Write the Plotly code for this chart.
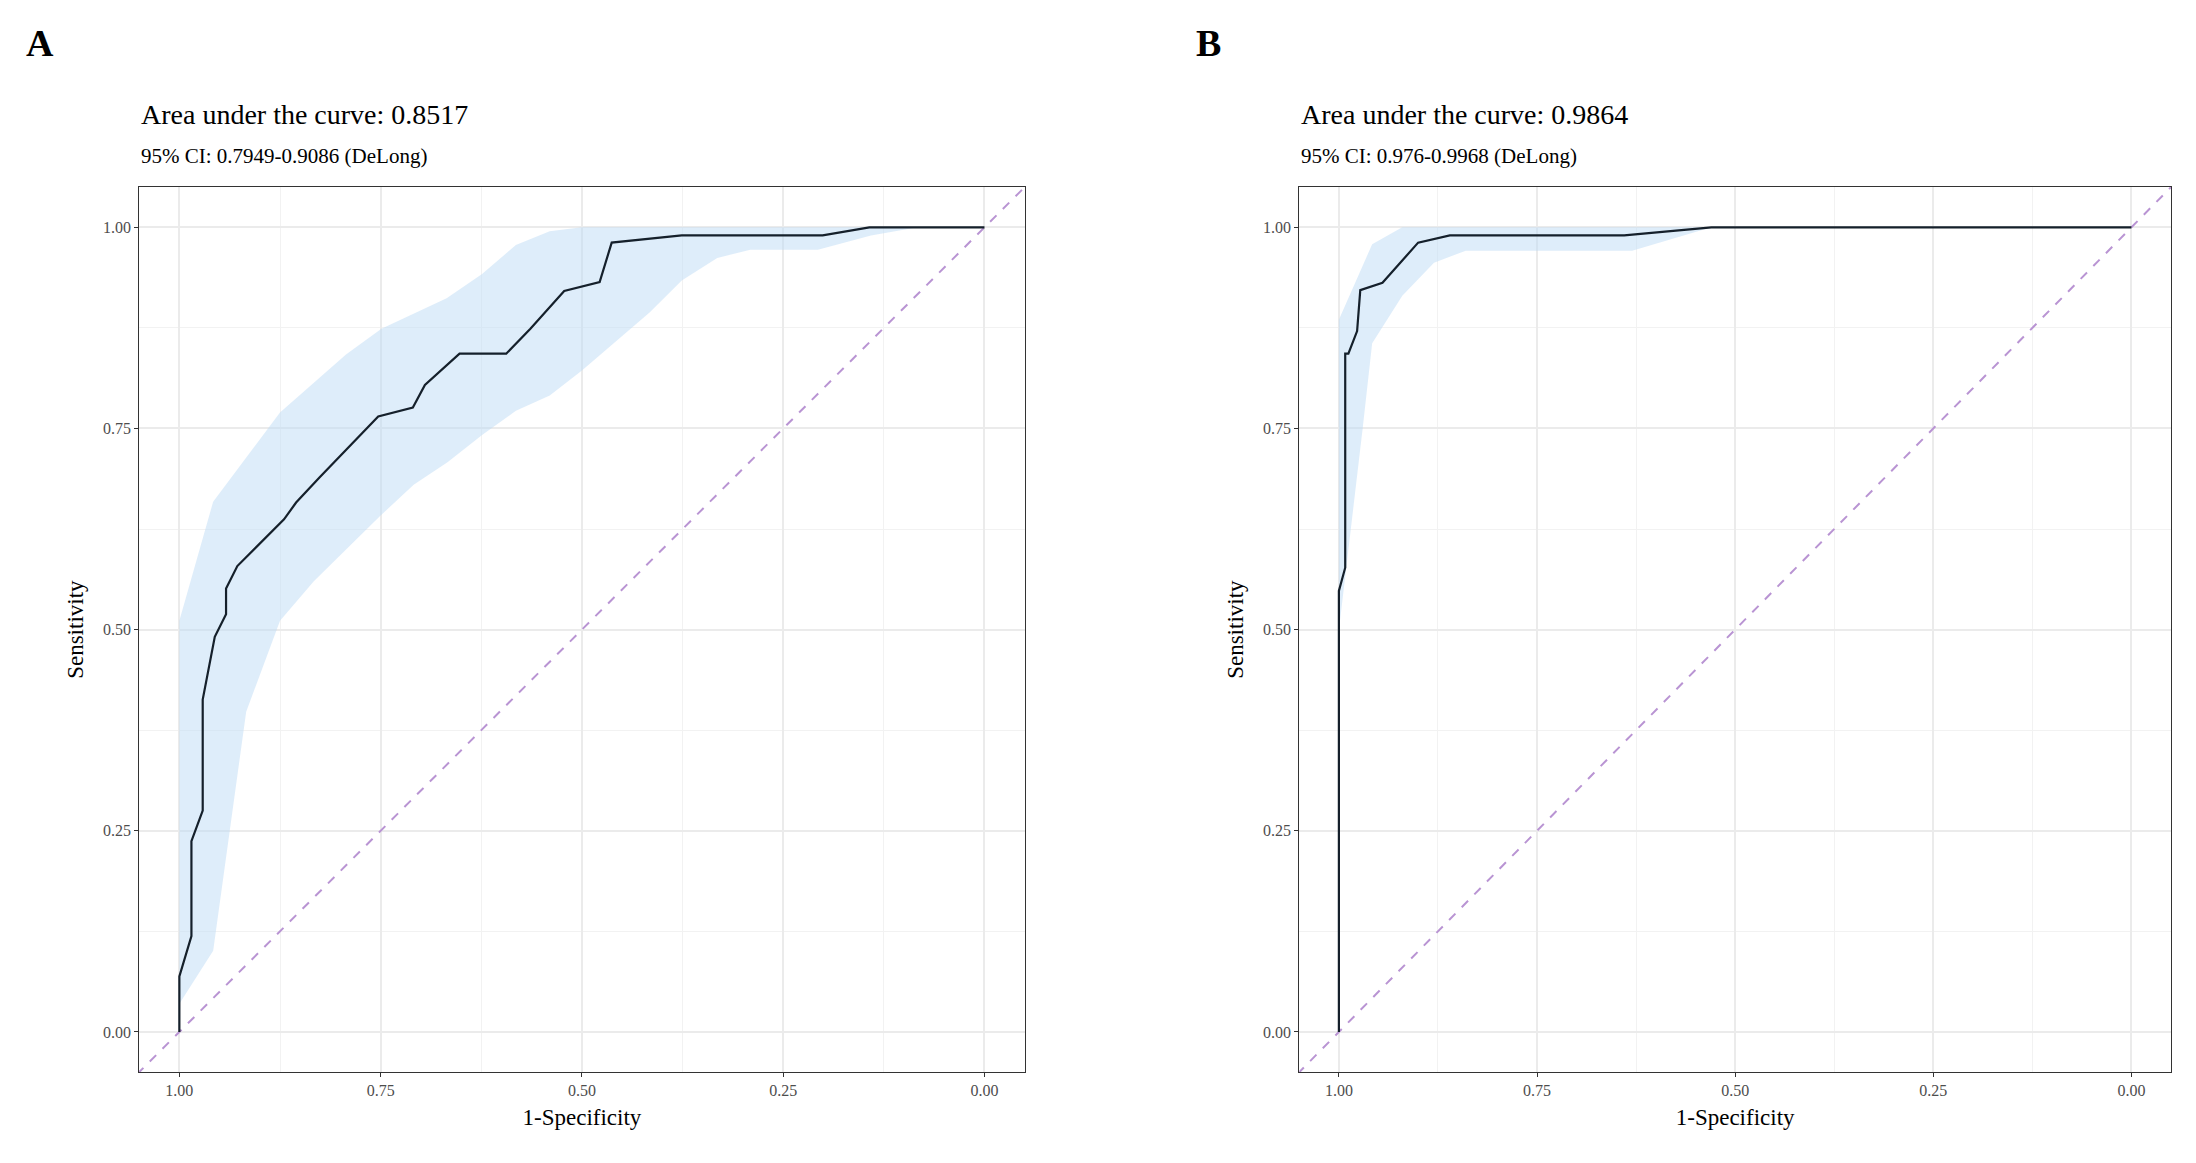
import plotly.graph_objects as go

# Panel A: ROC curve (x is specificity, axis reversed)
a_spec = [1, 1, 0.985, 0.985, 0.971, 0.971, 0.956, 0.942, 0.942, 0.928, 0.870, 0.855, 0.826,
          0.753, 0.710, 0.695, 0.652, 0.594, 0.564, 0.522, 0.478, 0.463, 0.376, 0.201, 0.143, 0]
a_sens = [0, 0.069, 0.119, 0.237, 0.275, 0.413, 0.491, 0.519, 0.551, 0.579, 0.637, 0.658, 0.689,
          0.765, 0.776, 0.804, 0.843, 0.843, 0.874, 0.921, 0.932, 0.981, 0.990, 0.990, 1.0, 1.0]
a_up_spec = [1, 0.958, 0.875, 0.793, 0.749, 0.668, 0.624, 0.582, 0.540, 0.5, 0]
a_up_sens = [0.511, 0.659, 0.770, 0.842, 0.874, 0.912, 0.942, 0.978, 0.995, 1.0, 1.0]
a_lo_spec = [1, 0.958, 0.917, 0.875, 0.833, 0.751, 0.709, 0.667, 0.624, 0.582, 0.540, 0.5,
             0.416, 0.376, 0.332, 0.291, 0.207, 0.141, 0.083, 0]
a_lo_sens = [0.035, 0.101, 0.398, 0.511, 0.560, 0.641, 0.680, 0.708, 0.742, 0.772, 0.791, 0.822,
             0.894, 0.934, 0.962, 0.972, 0.972, 0.990, 1.0, 1.0]

# Panel B
b_spec = [1, 1, 0.992, 0.992, 0.988, 0.977, 0.973, 0.945, 0.90, 0.86, 0.64, 0.53, 0]
b_sens = [0, 0.548, 0.577, 0.843, 0.843, 0.871, 0.922, 0.931, 0.981, 0.990, 0.990, 1.0, 1.0]
b_up_spec = [1, 0.958, 0.92, 0]
b_up_sens = [0.885, 0.979, 1.0, 1.0]
b_lo_spec = [1, 0.9975, 0.97, 0.958, 0.92, 0.88, 0.84, 0.63, 0.53, 0]
b_lo_sens = [0.50, 0.52, 0.75, 0.856, 0.915, 0.956, 0.971, 0.971, 1.0, 1.0]

titles = ["Area under the curve: 0.8517", "Area under the curve: 0.9864"]
subtitles = ["95% CI: 0.7949-0.9086 (DeLong)", "95% CI: 0.976-0.9968 (DeLong)"]
letters = ["A", "B"]
ticks = [0, 0.25, 0.5, 0.75, 1.0]
tick_text = ["0.00", "0.25", "0.50", "0.75", "1.00"]

FONT = "Liberation Serif"
fig = go.Figure()
panels = [
    (a_spec, a_sens, a_up_spec, a_up_sens, a_lo_spec, a_lo_sens),
    (b_spec, b_sens, b_up_spec, b_up_sens, b_lo_spec, b_lo_sens),
]
xdomains = [[0.0597, 0.463], [0.588, 0.985]]
ydomain = [0.085, 0.846]

for i, (sp, se, us, ue, ls, le) in enumerate(panels):
    xa = "x" if i == 0 else "x2"
    ya = "y" if i == 0 else "y2"
    fig.add_trace(go.Scatter(x=us + ls[::-1], y=ue + le[::-1], fill="toself",
                             fillcolor="rgba(190,220,245,0.5)", line=dict(width=0),
                             mode="lines", xaxis=xa, yaxis=ya, hoverinfo="skip"))
    fig.add_trace(go.Scatter(x=[1.1, -0.1], y=[-0.1, 1.1], mode="lines",
                             line=dict(color="#b994d3", dash="dash", width=2),
                             xaxis=xa, yaxis=ya))
    fig.add_trace(go.Scatter(x=sp, y=se, mode="lines", line=dict(color="#15202b", width=2.2),
                             xaxis=xa, yaxis=ya))
    axcommon = dict(showline=True, mirror=True, linecolor="#333333", linewidth=1,
                    gridcolor="#ebebeb", gridwidth=1.5, zeroline=False, automargin=False,
                    ticks="outside", ticklen=4, tickcolor="#333333",
                    tickvals=ticks, ticktext=tick_text,
                    tickfont=dict(family=FONT, size=16, color="#4d4d4d"),
                    minor=dict(tickvals=[0.125, 0.375, 0.625, 0.875], showgrid=True,
                               gridcolor="#f2f2f2", gridwidth=1, ticks=""),
                    title_font=dict(family=FONT, size=23, color="black"))
    fig.update_layout(**{
        ("xaxis" if i == 0 else "xaxis2"): dict(axcommon, domain=xdomains[i], range=[1.05, -0.05],
                                                 anchor=ya, title_text="1-Specificity",
                                                 title_standoff=10),
        ("yaxis" if i == 0 else "yaxis2"): dict(axcommon, domain=ydomain, range=[-0.05, 1.05],
                                                 anchor=xa, title_text="Sensitivity",
                                                 title_standoff=12),
    })
    x0 = xdomains[i][0]
    fig.add_annotation(text=titles[i], xref="paper", yref="paper", x=x0, y=0.893,
                       xanchor="left", yanchor="bottom", showarrow=False,
                       font=dict(family=FONT, size=28, color="black"))
    fig.add_annotation(text=subtitles[i], xref="paper", yref="paper", x=x0, y=0.861,
                       xanchor="left", yanchor="bottom", showarrow=False,
                       font=dict(family=FONT, size=21, color="black"))
    fig.add_annotation(text="<b>" + letters[i] + "</b>", xref="paper", yref="paper",
                       x=0.0075 if i == 0 else 0.54, y=0.99, xanchor="left", yanchor="top",
                       showarrow=False, font=dict(family=FONT, size=38, color="black"))

fig.update_layout(width=2196, height=1163, showlegend=False, plot_bgcolor="white",
                  paper_bgcolor="white", margin=dict(l=0, r=0, t=0, b=0))
fig.write_html("out.html")
